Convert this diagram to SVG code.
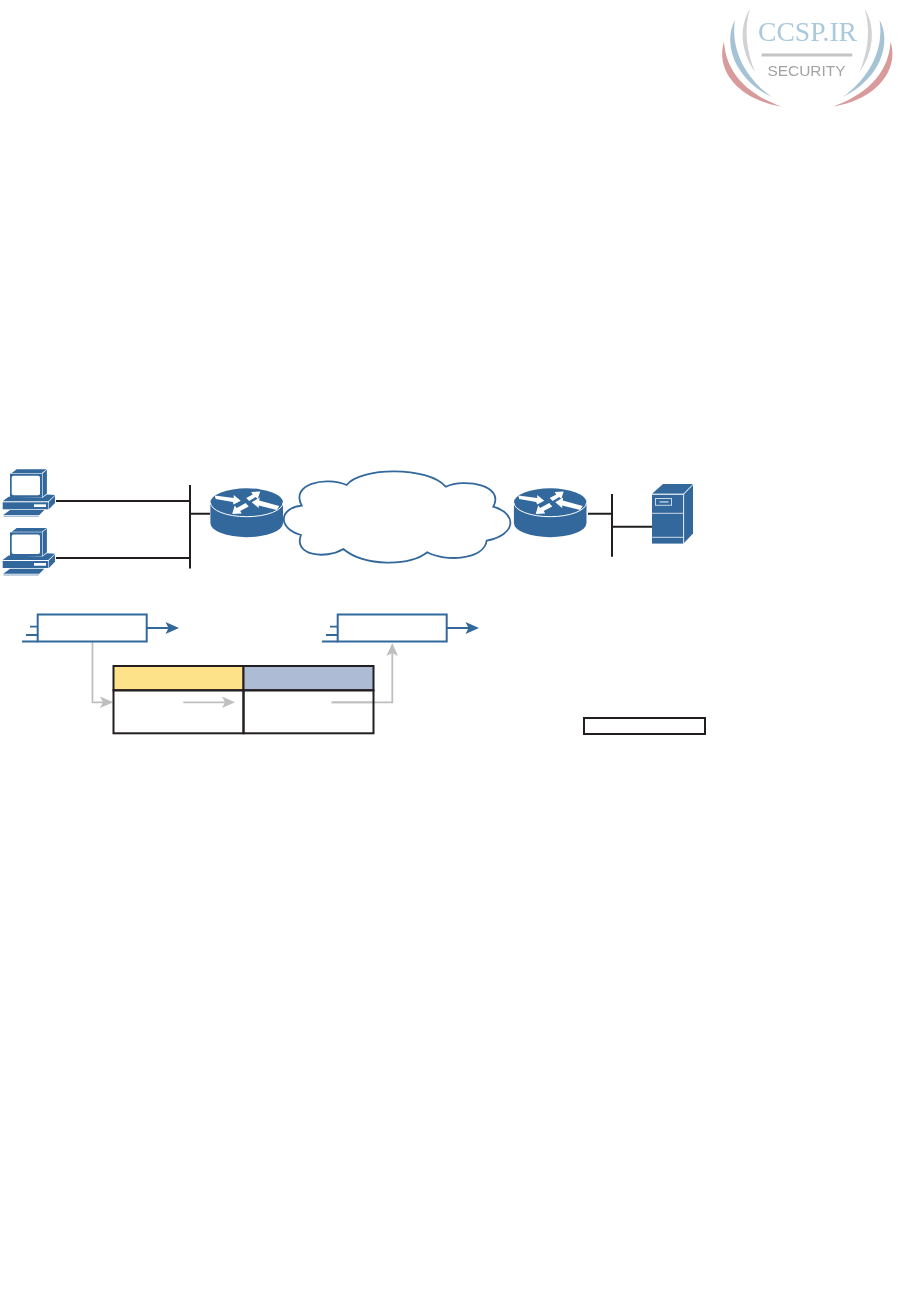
<svg xmlns="http://www.w3.org/2000/svg" xmlns:xlink="http://www.w3.org/1999/xlink" width="919" height="1314" viewBox="0 0 919 1314">
<style>
.blue{fill:#33689c}
.wire{stroke:#231f20;stroke-width:2;fill:none}
.cell{stroke:#231f20;stroke-width:2}
.box{fill:#fff;stroke:#33689c;stroke-width:2}
.stub{stroke:#33689c;stroke-width:1.8;fill:none}
.grey{stroke:#bfbfbf;stroke-width:1.8;fill:none}
.greyh{fill:#bfbfbf}
</style>
<defs>
<filter id="soft" x="-5%" y="-5%" width="110%" height="110%"><feGaussianBlur stdDeviation="0.45"/></filter>
<g id="pc">
<polygon class="blue" points="11.7,473 16.7,469.3 46.7,469.3 41.7,473"/>
<rect class="blue" x="10" y="473.6" width="32" height="24"/>
<polygon class="blue" points="42.6,473.4 46.9,469.8 46.9,493.5 42.6,497"/>
<rect x="11.7" y="475.7" width="28.3" height="19.5" rx="2" fill="#fff"/>
<polygon class="blue" points="8.5,496.7 42.5,497.8 47,494.5 55,495 48.3,501.3 2.7,501.3"/>
<rect class="blue" x="2.7" y="502.3" width="45.6" height="7"/>
<polygon class="blue" points="48.9,501.8 55,495.8 55,503 48.9,509.3"/>
<rect x="34" y="504.3" width="12" height="2.7" fill="#fff"/>
<polygon class="blue" points="10,510 44.3,510 39.3,515 3.3,515"/>
<polygon fill="#a9c0d8" points="3.3,515.5 39.3,515.5 38.5,517 3.5,517"/>
</g>
<g id="router">
<path class="blue" d="M-36.3,0A36.3,14.2 0 0 1 36.3,0V20.5A36.3,14.2 0 0 1-36.3,20.5Z"/>
<path d="M-36.3,0A36.3,14.2 0 0 0 36.3,0" fill="none" stroke="#fff" stroke-width="1"/>
<g fill="#fff">
<polygon points="-32,-7 -13,-4.5 -13,-7.5 -6,-1.8 -13,2 -14,-0.5 -31,-3.5"/>
<polygon points="-0.5,-4.5 6,-8 4.5,-10.5 13.5,-11 11,-3.5 9,-5.5 2.5,-1.5"/>
<polygon points="5,-0.2 13,-5 12.5,-2 32.5,3.5 30,7.5 12,3 12,5.5"/>
<polygon points="-14.5,11.5 -12,3 -10,5.5 -1,0.5 2,4 -6.5,8.5 -5,11"/>
</g>
</g>
<g id="tx">
<rect class="box" x="37.7" y="614.5" width="109" height="27"/>
<path class="stub" d="M30,626.7H37.7M26,635H37.7M22,641.5H37.7M147,628H170"/>
<polygon class="blue" points="179,628 165.5,622 168.5,628 165.5,634"/>
</g>
<g id="crescents">
<path fill="#d2d2d2" d="M750,9C741,22 738,48 755,72C746,50 744,28 750,9Z"/>
<path fill="#a5c3d4" d="M735,20C723,42 733,78 771.7,97C748,80 730,52 735,20Z"/>
<path fill="#d89a9a" d="M724,41.5C715,72 740,100 781.7,106.7C752,96 726,76 724,41.5Z"/>
</g>
</defs>

<g id="watermark">
<g filter="url(#soft)">
<use xlink:href="#crescents" href="#crescents"/>
<use xlink:href="#crescents" href="#crescents" transform="matrix(-1 0 0 1 1614.6 0)"/>
<text x="758" y="40.5" font-family="'Liberation Serif',serif" font-size="27" fill="#a9c9dc" textLength="99" lengthAdjust="spacingAndGlyphs">CCSP.IR</text>
<rect x="761.7" y="53.5" width="90.6" height="3" fill="#c4c4c4"/>
<text x="767.5" y="75.5" font-family="'Liberation Sans',sans-serif" font-size="14.5" fill="#a3a3a3" textLength="78" lengthAdjust="spacingAndGlyphs">SECURITY</text>
</g>
</g>

<g id="connectors">
<path class="wire" d="M56,501H190M56,558H190M190,485V568.5M190,513.7H210"/>
<path class="wire" d="M588,513.7H612M612,494V556.7M612,526.7H652"/>
<path class="grey" d="M92.5,642V702.3H103"/>
<polygon class="greyh" points="113.3,702.3 100,696.5 103,702.3 100,708"/>
<path class="grey" d="M183.3,702.3H225"/>
<polygon class="greyh" points="235,702.3 222,696.5 225,702.3 222,708"/>
<path class="grey" d="M331.7,702.3H392.3V653"/>
<polygon class="greyh" points="392.3,643 386.5,656 392.3,653 398,656"/>
</g>

<g id="pc1"><use xlink:href="#pc" href="#pc"/></g>
<g id="pc2"><use xlink:href="#pc" href="#pc" y="58.7"/></g>
<g id="router1"><use xlink:href="#router" href="#router" x="246.7" y="502.5"/></g>
<g id="router2"><use xlink:href="#router" href="#router" x="550.2" y="502.5"/></g>

<g id="cloud">
<path d="M346.7,485C360,467 428,466 445.7,486.7C465,478 505,485 493.3,506.7C518,514 516,535 486.7,540.7C484,560 445,562 427.3,552.3C410,566 365,567 343.3,549C325,560 293,555 301,535C277,528 279,508 301.7,505.7C290,484 325,476 346.7,485Z" fill="#fff" stroke="#33689c" stroke-width="1.8"/>
</g>

<g id="server">
<polygon class="blue" points="652,493.8 663,484 693,484 683.3,493.8"/>
<rect class="blue" x="652" y="494.6" width="31.3" height="49"/>
<polygon class="blue" points="684,494.3 693,485 693,533.5 684,543"/>
<path d="M652,494.3H683.6V543.7M652,513.3H683.3M652,537.3H683.3" fill="none" stroke="#dfe7f0" stroke-width="0.9"/>
<rect x="655.5" y="498.5" width="16" height="6.8" fill="none" stroke="#c9d6e6" stroke-width="1"/>
<rect x="659.5" y="501" width="9" height="1.8" fill="#9db6d2"/>
</g>

<g id="box1"><use xlink:href="#tx" href="#tx"/></g>
<g id="box2"><use xlink:href="#tx" href="#tx" x="300"/></g>

<g id="table">
<rect x="113.5" y="666" width="130" height="24.3" fill="#fde28a" class="cell"/>
<rect x="243.5" y="666" width="130" height="24.3" fill="#aebbd4" class="cell"/>
<path class="grey" d="M331.7,702.3H373"/>
<rect x="113.5" y="690.3" width="130" height="43" fill="none" class="cell"/>
<rect x="243.5" y="690.3" width="130" height="43" fill="none" class="cell"/>
</g>

<g id="legend"><rect x="584" y="718" width="121" height="16" fill="#fff" class="cell"/></g>
</svg>
